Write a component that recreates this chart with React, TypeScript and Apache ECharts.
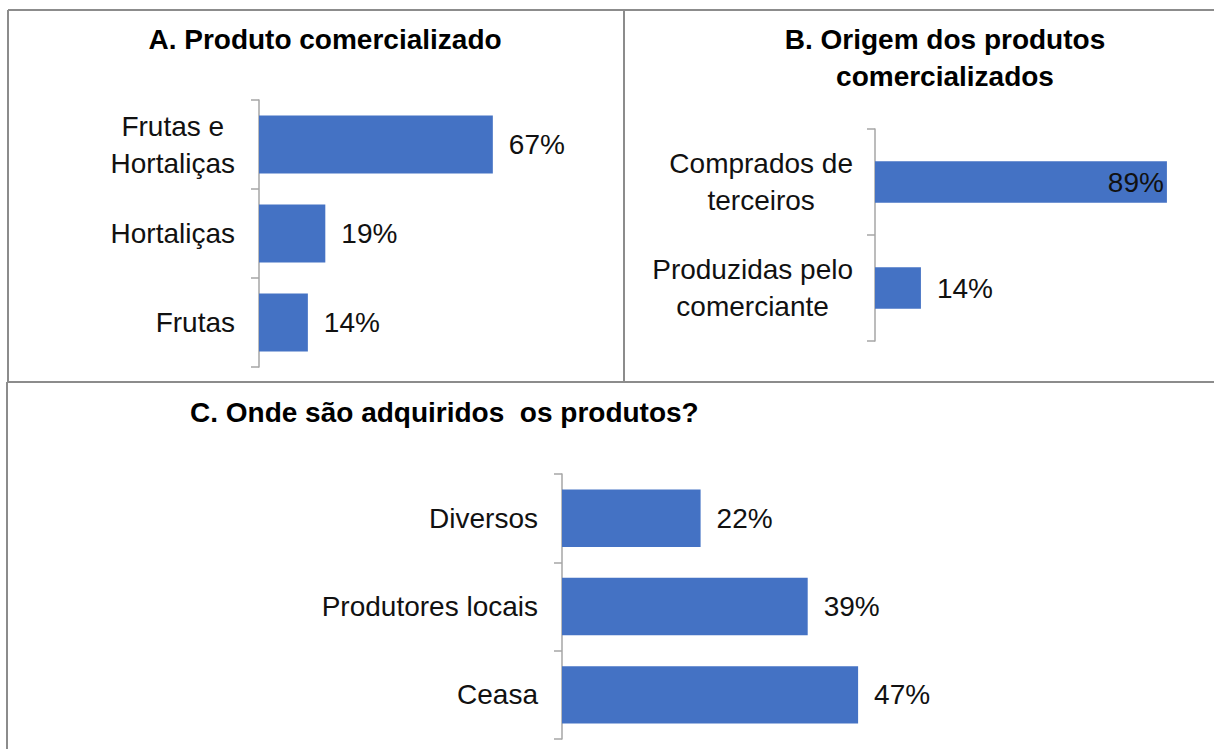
import React, { useEffect, useRef } from "react";
import * as echarts from "echarts";

const catsA = ["Frutas e\nHortaliças", "Hortaliças", "Frutas"];
const valsA = [67, 19, 14];
const catsB = ["Comprados de\nterceiros", "Produzidas pelo\ncomerciante"];
const valsB = [89, 14];
const catsC = ["Diversos", "Produtores locais", "Ceasa"];
const valsC = [22, 39, 47];

const titleA = "A. Produto comercializado";
const titleB = "B. Origem dos produtos\ncomercializados";
const titleC = "C. Onde são adquiridos  os produtos?";

const FONT = "'Liberation Sans', Arial, sans-serif";
const BAR = "#4472c4";
const TXT = "#111111";
const AXIS = "#a6a6a6";
const BORDER = "#8c8c8c";

export default function App() {
  const ref = useRef<HTMLDivElement>(null);
  useEffect(() => {
    if (!ref.current) return;
    const chart = echarts.init(ref.current, null, { renderer: "svg" });
    const catAxis = (gridIndex: number, data: string[], margin: number) => ({
      type: "category",
      gridIndex,
      data,
      inverse: true,
      axisLine: { show: true, lineStyle: { color: AXIS, width: 1.5 } },
      axisTick: { show: true, length: 8, lineStyle: { color: AXIS, width: 1.5 } },
      axisLabel: {
        color: TXT,
        fontSize: 28,
        fontFamily: FONT,
        lineHeight: 37,
        margin,
        align: "right",
        formatter: (v: string) =>
          v
            .split("\n")
            .map((s) => "{c|" + s + "}")
            .join("\n"),
        rich: {
          c: { align: "center", color: TXT, fontSize: 28, fontFamily: FONT, lineHeight: 37 },
        },
      },
      splitLine: { show: false },
    });
    const valAxis = (gridIndex: number) => ({
      type: "value",
      gridIndex,
      min: 0,
      max: 100,
      show: false,
      splitLine: { show: false },
    });
    const valLabel = {
      show: true,
      position: "right",
      distance: 16,
      formatter: "{c}%",
      color: TXT,
      fontSize: 28,
      fontFamily: FONT,
    };
    chart.setOption({
      animation: false,
      backgroundColor: "#ffffff",
      title: [
        {
          text: titleA,
          left: 325,
          top: 22,
          textAlign: "center",
          padding: 0,
          textStyle: { fontSize: 28, fontWeight: "bold", color: "#000", fontFamily: FONT, lineHeight: 34 },
        },
        {
          text: titleB,
          left: 945,
          top: 21,
          textAlign: "center",
          padding: 0,
          textStyle: { fontSize: 28, fontWeight: "bold", color: "#000", fontFamily: FONT, lineHeight: 37 },
        },
        {
          text: titleC,
          left: 190,
          top: 395,
          padding: 0,
          textStyle: { fontSize: 28, fontWeight: "bold", color: "#000", fontFamily: FONT, lineHeight: 34 },
        },
      ],
      grid: [
        { left: 259, top: 100, width: 349, height: 267 },
        { left: 875, top: 129, width: 328, height: 212 },
        { left: 562, top: 474, width: 630, height: 265 },
      ],
      yAxis: [catAxis(0, catsA, 24), catAxis(1, catsB, 22), catAxis(2, catsC, 24)],
      xAxis: [valAxis(0), valAxis(1), valAxis(2)],
      series: [
        {
          type: "bar",
          xAxisIndex: 0,
          yAxisIndex: 0,
          data: valsA,
          barCategoryGap: "35%",
          itemStyle: { color: BAR },
          label: valLabel,
        },
        {
          type: "bar",
          xAxisIndex: 1,
          yAxisIndex: 1,
          data: valsB.map((v, i) =>
            i === 0
              ? { value: v, label: { position: "insideRight", distance: 3 } }
              : { value: v }
          ),
          barCategoryGap: "61%",
          itemStyle: { color: BAR },
          label: valLabel,
        },
        {
          type: "bar",
          xAxisIndex: 2,
          yAxisIndex: 2,
          data: valsC,
          barCategoryGap: "35%",
          itemStyle: { color: BAR },
          label: valLabel,
        },
      ],
      graphic: [
        { type: "line", shape: { x1: 8, y1: 10, x2: 1214, y2: 10 }, style: { stroke: BORDER, lineWidth: 2 } },
        { type: "line", shape: { x1: 8, y1: 10, x2: 8, y2: 382 }, style: { stroke: BORDER, lineWidth: 2 } },
        { type: "line", shape: { x1: 624, y1: 10, x2: 624, y2: 382 }, style: { stroke: BORDER, lineWidth: 2 } },
        { type: "line", shape: { x1: 7, y1: 382, x2: 1214, y2: 382 }, style: { stroke: BORDER, lineWidth: 2 } },
        { type: "line", shape: { x1: 7, y1: 382, x2: 7, y2: 749 }, style: { stroke: BORDER, lineWidth: 2 } },
      ],
    });
    return () => chart.dispose();
  }, []);
  return (
    <div
      ref={ref}
      style={{ position: "fixed", left: 0, top: 0, width: 1214, height: 749, background: "#fff" }}
    />
  );
}
